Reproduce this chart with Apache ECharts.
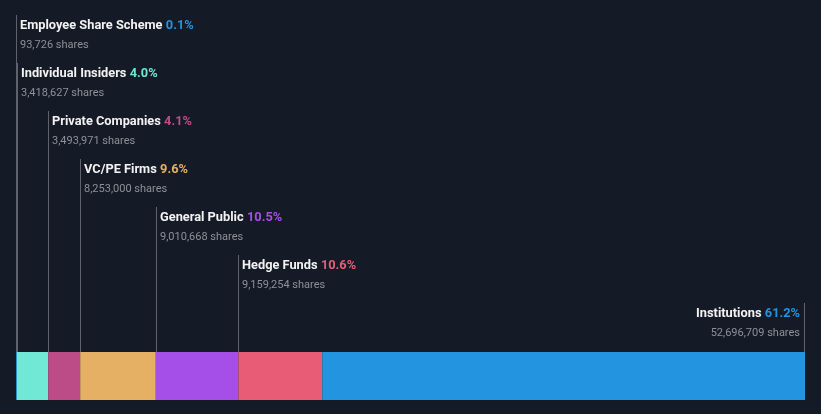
<!DOCTYPE html>
<html><head><meta charset="utf-8">
<script src="https://cdn.jsdelivr.net/npm/echarts@6/dist/echarts.min.js"></script>
<style>html,body{margin:0;padding:0;background:#151b26;}#c{width:821px;height:414px;}</style>
</head><body><div id="c"></div>
<script>
const categories = ['Employee Share Scheme','Individual Insiders','Private Companies','VC/PE Firms','General Public','Hedge Funds','Institutions'];
const shares = [93726, 3418627, 3493971, 8253000, 9010668, 9159254, 52696709];
const percents = ['0.1%','4.0%','4.1%','9.6%','10.5%','10.6%','61.2%'];
const colors = ['#2394df','#71e7d6','#bc4c88','#e5b064','#a64ee8','#e85d75','#2394df'];

const total = shares.reduce((a,b)=>a+b,0);
let acc = 0;
const spans = shares.map((v,i)=>{ const s = acc; acc += v; return [s, acc, i]; });
const FONT = 'Roboto, "Noto Sans", sans-serif';

const barSeries = categories.map((c,i)=>({
  type:'bar', name:c, stack:'own', barWidth:48, data:[shares[i]],
  itemStyle:{color:colors[i]}, silent:true
}));

const annot = {
  type:'custom', silent:true, clip:false, data:spans, z:10,
  encode:{x:[0,1]},
  renderItem:function(params, api){
    const s = api.value(0), e = api.value(1), i = api.value(2);
    const isLast = i === categories.length-1;
    const barTop = params.coordSys.y;
    const x = Math.round(api.coord([isLast ? e : s, 0])[0]);
    const lx = isLast ? x - 0.5 : x + 0.5;
    const nameY = 26 + 48*i;
    return {type:'group', children:[
      {type:'line', shape:{x1:lx, y1:nameY-11, x2:lx, y2:barTop},
       style:{stroke:'#5d626b', lineWidth:1}},
      {type:'text', style:{
        x: isLast ? x-5 : x+4, y:nameY,
        text:'{n|'+categories[i]+'} {p|'+percents[i]+'}',
        align:isLast?'right':'left', verticalAlign:'middle',
        rich:{
          n:{fontFamily:FONT, fontSize:12.8, fontWeight:'bold', fill:'#f2f2f2'},
          p:{fontFamily:FONT, fontSize:12.8, fontWeight:'bold', fill:colors[i]}
        }}},
      {type:'text', style:{
        x: isLast ? x-5 : x+4, y:nameY+19,
        text: shares[i].toLocaleString('en-US')+' shares',
        align:isLast?'right':'left', verticalAlign:'middle',
        fontFamily:FONT, fontSize:11, fill:'#8d9098'}}
    ]};
  }
};

const chart = echarts.init(document.getElementById('c'));
chart.setOption({
  backgroundColor:'#151b26',
  animation:false,
  grid:{left:16, right:16, top:352, height:48},
  xAxis:{type:'value', min:0, max:total, show:false},
  yAxis:{type:'category', data:['Ownership'], show:false},
  series: barSeries.concat([annot])
});
</script></body></html>
